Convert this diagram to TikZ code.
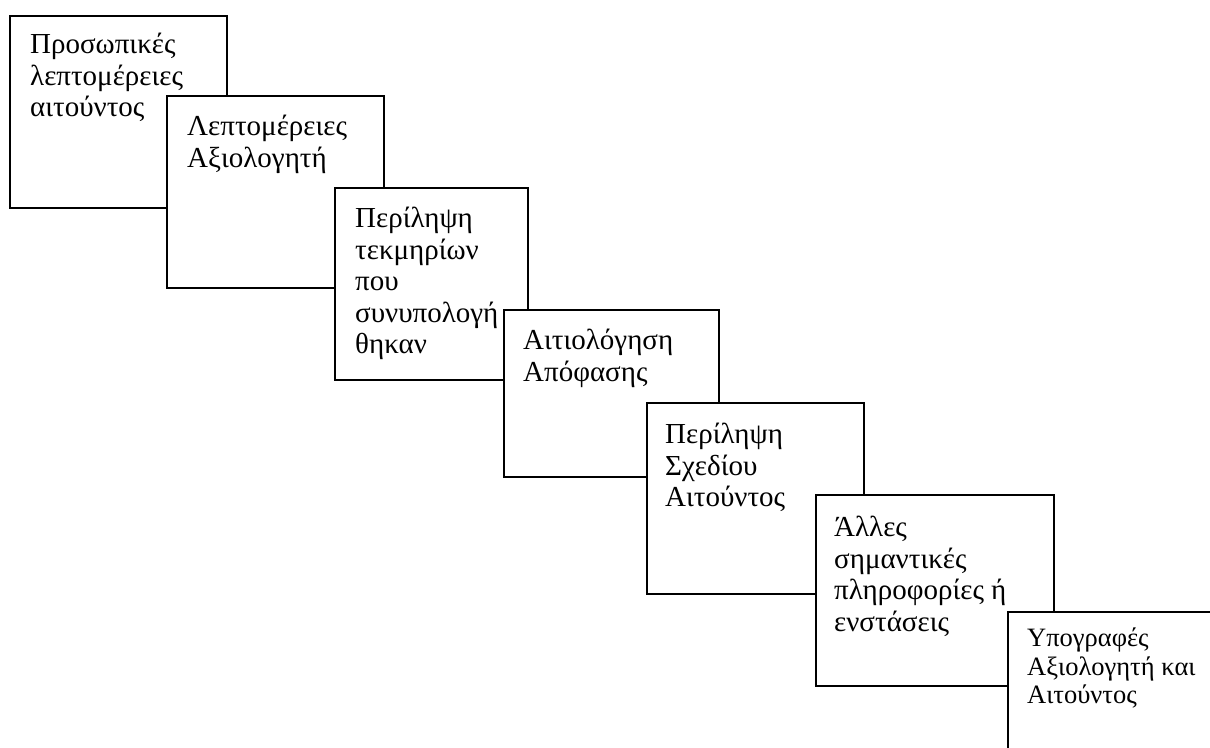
\documentclass[tikz,border=0pt]{standalone}
\usepackage{fontspec}
\setmainfont{Liberation Serif}
\usetikzlibrary{positioning}

\tikzset{
card/.style={draw, fill=white, line width=2pt, inner sep=0pt, anchor=north west},
cardtext/.style={anchor=north west, inner sep=0pt, align=left,
  font=\fontsize{29}{31.5}\selectfont, execute at begin node=\strut},
smalltext/.style={cardtext, font=\fontsize{26.5}{28.5}\selectfont}
}

\begin{document}
\begin{tikzpicture}[x=1pt, y=-1pt]
\useasboundingbox (0,0) rectangle (1210,747);
\clip (0,0) rectangle (1210,747);

% strut is 0.7 of the line, so the first baseline sits about 42 below the top
\node[card, minimum width=217pt, minimum height=192pt] (b1) at (9,15) {};
\node[cardtext] (t1) at ([shift={(21,18)}]b1.north west)
  {Προσωπικές\\λεπτομέρειες\\αιτούντος};

\node[card, minimum width=217pt, minimum height=192pt] (b2) at (166,95) {};
\node[cardtext] (t2) at ([shift={(21,20)}]b2.north west)
  {Λεπτομέρειες\\Αξιολογητή};

\node[card, minimum width=193pt, minimum height=192pt] (b3) at (334,187) {};
\node[cardtext] (t3) at ([shift={(21,20)}]b3.north west)
  {Περίληψη\\τεκμηρίων\\που\\συνυπολογή\\θηκαν};

\node[card, minimum width=215pt, minimum height=167pt] (b4) at (503,309) {};
\node[cardtext] (t4) at ([shift={(20,20)}]b4.north west)
  {Αιτιολόγηση\\Απόφασης};

\node[card, minimum width=217pt, minimum height=191pt] (b5) at (646,402) {};
\node[cardtext] (t5) at ([shift={(19,21)}]b5.north west)
  {Περίληψη\\Σχεδίου\\Αιτούντος};

\node[card, minimum width=238pt, minimum height=191pt] (b6) at (815,494) {};
\node[cardtext] (t6) at ([shift={(19,22)}]b6.north west)
  {Άλλες\\σημαντικές\\πληροφορίες ή\\ενστάσεις};

% last one runs off the page
\node[card, minimum width=240pt, minimum height=180pt] (b7) at (1007,611) {};
\node[smalltext] (t7) at ([shift={(20,17)}]b7.north west)
  {Υπογραφές\\Αξιολογητή και\\Αιτούντος};
\end{tikzpicture}
\end{document}
